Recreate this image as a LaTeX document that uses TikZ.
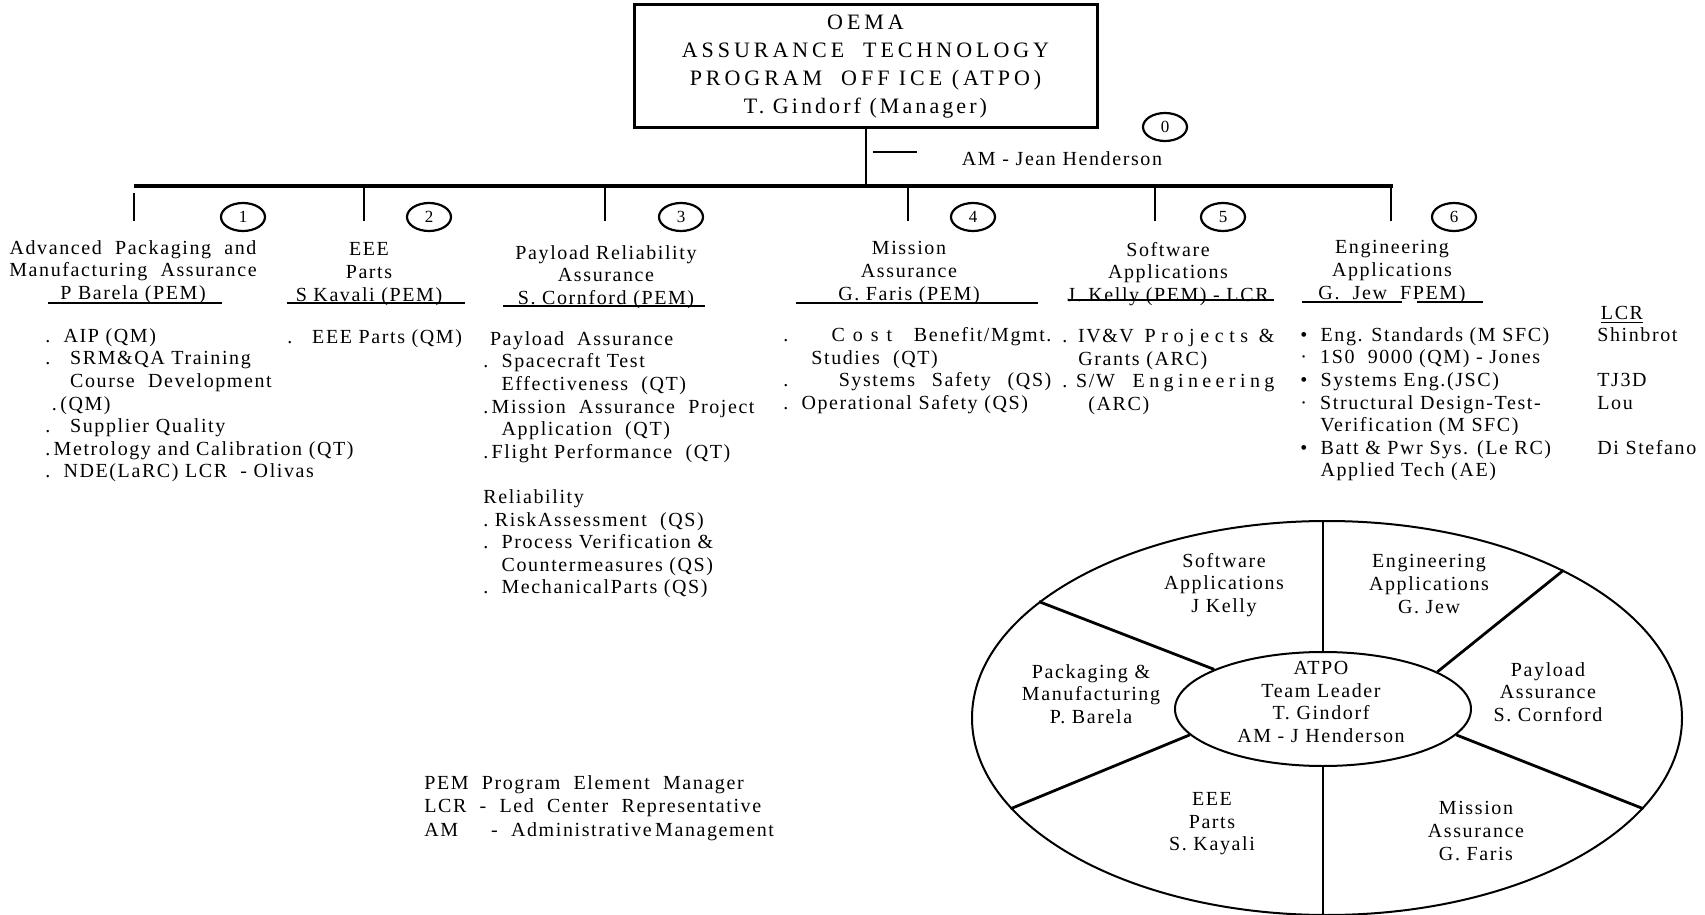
\documentclass[tikz,border=0pt]{standalone}
\usepackage{fontspec}
\setmainfont{Liberation Serif}[LetterSpace=8]
\usepackage{tikz}
\usetikzlibrary{shapes.geometric}

\begin{document}
\begin{tikzpicture}[
    x=0.5pt, y=-0.5pt,
    every node/.style={inner sep=0pt, font=\fontsize{10}{11.3}\selectfont},
    head/.style={align=center},
    items/.style={align=left, anchor=north west},
    numring/.style={ellipse, draw, line width=1.1pt, minimum width=22pt,
                    minimum height=14pt, font=\fontsize{8.5}{8.5}\selectfont},
    titlebox/.style={draw, line width=1.5pt, minimum width=231.5pt,
                     minimum height=61.5pt, align=center,
                     font=\fontsize{11}{14}\selectfont\addfontfeature{LetterSpace=18}},
    bar/.style={line width=2pt},
    tick/.style={line width=1pt},
    uline/.style={line width=1pt},
    spoke/.style={line width=1.4pt},
    thinspoke/.style={line width=0.8pt},
    pielabel/.style={align=center}
]
\path[fill=white, use as bounding box] (0,0) rectangle (1705,915);

% top of the chart
\node[titlebox] (atpo) at (865.5,66.5) {OEMA\\ASSURANCE\ \ TECHNOLOGY\\PROGRAM\ \ OFF ICE (ATPO)\\{\addfontfeature{LetterSpace=14}T. Gindorf\ (Manager)}};
\coordinate (barL) at (134,186);
\coordinate (barR) at (1393,186);
\draw[bar] (barL) -- (barR);
\draw[tick] (atpo.south) -- (atpo.south |- barL);

\coordinate (amL) at (873,152);
\coordinate (amR) at (917,152);
\draw[tick] (amL) -- (amR);
\node (am) at (1062,159) {AM - Jean Henderson};
\node[numring] (n0) at (1165,127) {0};

\foreach \n/\x/\y/\cx in {1/134/193/243, 2/364/186/429, 3/605/186/681,
                          4/908/186/973, 5/1155/186/1223, 6/1391/186/1454} {
  \coordinate (t\n) at (\x,221);
  \draw[tick] (\x,\y) -- (t\n);
  \node[numring] (n\n) at (\cx,217) {\n};
}

% program elements
\node[head] (h1) at (133,272) {Advanced\ \ Packaging\ \ and\\Manufacturing\ \ Assurance\\P Barela (PEM)};
\node[head] (h2) at (369,274) {EEE\\Parts\\S Kavali (PEM)};
\node[head] (h3) at (606,277) {Payload Reliability\\Assurance\\S. Cornford (PEM)};
\node[head] (h4) at (909,273) {Mission\\Assurance\\G. Faris (PEM)};
\node[head] (h5) at (1168,274) {Software\\Applications\\J. Kelly (PEM) - LCR};
\node[head] (h6) at (1392,272) {Engineering\\Applications\\G.\ \ Jew\ \ FPEM)};

\foreach \a/\b/\y in {48/222/303, 287/465/303, 503/705/306, 796/1038/303,
                      1068/1274/300, 1302/1402/302, 1417/1483/302}
  \draw[uline] (\a,\y) -- (\b,\y);

\node[items] (l1) at (45,328) {.\ \ AIP (QM)\\
.\ \ \ SRM\&QA Training\\
\hphantom{.\ \ \ }Course\ \ Development\\
\ .\,(QM)\\
.\ \ \ Supplier Quality\\
.\,Metrology and Calibration (QT)\\
.\ \ NDE(LaRC) LCR\ \ - Olivas};

\node[items] (l2) at (287,329) {.\ \ \ EEE Parts (QM)};

\node[items] (l3) at (483,331) {\ Payload\ \ Assurance\\
.\ \ Spacecraft Test\\
\hphantom{.\ \ }Effectiveness\ \ (QT)\\
.\,Mission\ \ Assurance\ \ Project\\
\hphantom{.\ \ }Application\ \ (QT)\\
.\,Flight Performance\ \ (QT)\\[11.3pt]
Reliability\\
.\ RiskAssessment\ \ (QS)\\
.\ \ Process Verification \&\\
\hphantom{.\ \ }Countermeasures (QS)\\
.\ \ MechanicalParts (QS)};

\node[items] (l4) at (783,327) {\makebox[134pt][s]{.\ \ {\addfontfeature{LetterSpace=40}Cost} Benefit/Mgmt.}\\
\hspace*{14pt}Studies\ \ (QT)\\
\makebox[134pt][s]{.\ \ \ Systems Safety (QS)}\\
.\ \ Operational Safety (QS)};

\node[items] (l5) at (1062,329) {\makebox[106pt][s]{.\ IV\&V\ {\addfontfeature{LetterSpace=28}Projects}\ \&}\\
\hspace*{8pt}Grants (ARC)\\
\makebox[106pt][s]{.\ S/W\ \ {\addfontfeature{LetterSpace=22}Engineering}}\\
\hspace*{13pt}(ARC)};

\node[items] (l6) at (1300,327) {•\ \ Eng. Standards (M SFC)\\
·\ \ 1S0\ \ 9000 (QM) - Jones\\
•\ \ Systems Eng.(JSC)\\
·\ \ Structural Design-Test-\\
\hphantom{·\ \ }Verification (M SFC)\\
•\ \ Batt \& Pwr Sys. (Le RC)\\
\hphantom{•\ \ }Applied Tech (AE)};

\node (lcrhd) at (1622,315) {\underline{LCR}};
\node[items] (lcr) at (1597,327) {Shinbrot\\ \mbox{}\\ TJ3D\\ Lou\\ \mbox{}\\ Di Stefano};

% abbreviations
\node[items, font=\fontsize{10}{11.75}\selectfont] (legend) at (424,775) {PEM\ \ Program\ \ Element\ \ Manager\\
LCR\ \ -\ \ Led\ \ Center\ \ Representative\\
AM\ \ \ \ \ -\ \ Administrative\,Management};

% team wheel
\node[ellipse, draw, line width=1pt, minimum width=355pt, minimum height=197pt] (wheel) at (1327,718) {};
\node[ellipse, draw, line width=1pt, minimum width=148pt, minimum height=57pt] (hub) at (1323,709) {};
\node[pielabel] (hubtxt) at (1321,702) {ATPO\\Team Leader\\T. Gindorf\\AM\ -\ J Henderson};

\draw[thinspoke] (hub.north) -- (hub.north |- wheel.north);
\draw[thinspoke] (hub.south) -- (hub.south |- wheel.south);
\draw[spoke] (hub.160) -- (wheel.158.5);
\draw[spoke] (hub.18) -- (wheel.32);
\draw[spoke] (hub.-11.5) -- (wheel.-16);
\draw[spoke] (hub.191.7) -- (wheel.196);

\node[pielabel] (pSW) at (1224,585) {Software\\Applications\\J Kelly};
\node[pielabel] (pEA) at (1429,584) {Engineering\\Applications\\G. Jew};
\node[pielabel] (pPM) at (1091,694) {Packaging \&\\Manufacturing\\P. Barela};
\node[pielabel] (pPA) at (1548,692) {Payload\\Assurance\\S. Cornford};
\node[pielabel] (pEEE) at (1212,824) {EEE\\Parts\\S. Kayali};
\node[pielabel] (pMA) at (1476,831) {Mission\\Assurance\\G. Faris};
\end{tikzpicture}
\end{document}
